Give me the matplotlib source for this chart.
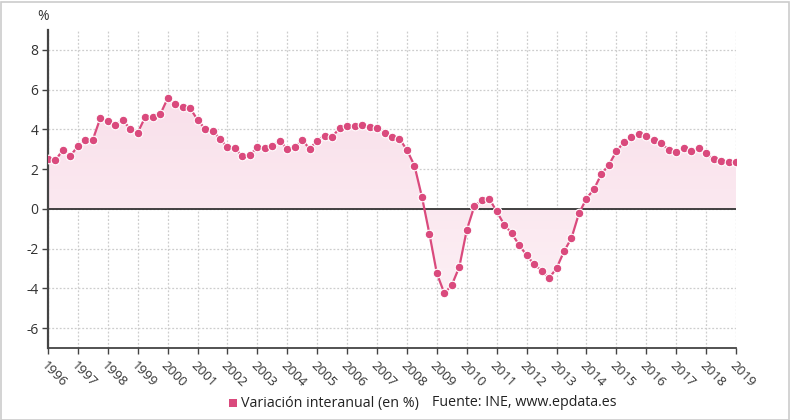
import matplotlib
matplotlib.use("Agg")
import matplotlib.pyplot as plt
import numpy as np
from matplotlib.colors import LinearSegmentedColormap
from matplotlib.patches import Rectangle

plt.rcParams['font.family'] = ['Open Sans', 'DejaVu Sans']

start_year = 1996
values = [
    2.52, 2.45, 2.97, 2.67, 3.16, 3.46, 3.49, 4.57, 4.42, 4.23, 4.45, 4.03,
    3.84, 4.62, 4.62, 4.75, 5.56, 5.27, 5.15, 5.07, 4.48, 4.03, 3.93, 3.53,
    3.09, 3.04, 2.65, 2.69, 3.12, 3.04, 3.14, 3.42, 3.02, 3.11, 3.46, 3.02,
    3.44, 3.69, 3.63, 4.06, 4.15, 4.18, 4.22, 4.12, 4.05, 3.81, 3.63, 3.53,
    2.96, 2.18, 0.61, -1.25, -3.25, -4.25, -3.83, -2.92, -1.06, 0.12, 0.45, 0.52,
    -0.13, -0.79, -1.23, -1.82, -2.33, -2.79, -3.11, -3.49, -2.99, -2.14, -1.47, -0.23,
    0.52, 0.99, 1.75, 2.22, 2.89, 3.36, 3.63, 3.78, 3.69, 3.49, 3.32, 2.96,
    2.84, 3.04, 2.91, 3.07, 2.81, 2.50, 2.40, 2.37, 2.38,
]
years = list(range(1996, 2020))
yticks = [-6, -4, -2, 0, 2, 4, 6, 8]
series_label = "Variación interanual (en %)"
source_label = "Fuente: INE, www.epdata.es"

x = start_year + np.arange(len(values)) * 0.25
y = np.array(values)

pink = '#da4a7d'
W, H = 790, 420
fig = plt.figure(figsize=(W / 100, H / 100), dpi=100)
ax = fig.add_axes([48 / W, 1 - 348 / H, (736 - 48) / W, (348 - 30) / H])

# Gradient fill between line and zero
poly = ax.fill_between(x, y, 0, color='none', linewidth=0)
cmap = LinearSegmentedColormap.from_list('pk', ['#fdf3f7', '#f8dbe7'])
grad = np.linspace(0, 1, 256).reshape(-1, 1)
im = ax.imshow(grad, extent=[1996, 2019, 9, -7], aspect='auto', cmap=cmap,
               origin='upper', zorder=1, interpolation='bilinear')
path = poly.get_paths()[0]
im.set_clip_path(path, transform=ax.transData)

ax.axhline(0, color='#333333', linewidth=1.3, zorder=2)
ax.plot(x, y, color=pink, linewidth=1.6, zorder=3, marker='o', markersize=6.2,
        markerfacecolor=pink, markeredgecolor='white', markeredgewidth=0.8)

ax.set_xlim(1996, 2019)
ax.set_ylim(-7, 9)
ax.set_xticks(years)
ax.set_xticklabels([str(v) for v in years], rotation=-45, ha='left', va='top',
                   rotation_mode='anchor', fontsize=9.5, color='#333333')
ax.set_yticks(yticks)
ax.set_yticklabels([str(v) for v in yticks], fontsize=10, color='#333333')
ax.tick_params(axis='both', length=4, width=1, color='#444444')
ax.tick_params(axis='x', pad=4)
ax.tick_params(axis='y', pad=3)

ax.grid(True, color='#cdcdcd', linestyle=(0, (1.5, 1.5)), linewidth=0.9, zorder=0)
ax.set_axisbelow(True)
for s in ['top', 'right']:
    ax.spines[s].set_visible(False)
ax.spines['left'].set_color('#444444')
ax.spines['left'].set_linewidth(1.6)
ax.spines['bottom'].set_color('#444444')
ax.spines['bottom'].set_linewidth(1.3)

fig.text(37 / W, 1 - 17 / H, '%', fontsize=10, color='#333333', ha='left', va='center')

# Legend
fig.patches.append(Rectangle((229 / W, 1 - 407 / H), 8 / W, 8 / H, transform=fig.transFigure,
                             facecolor=pink, edgecolor='none'))
fig.text(241 / W, 1 - 403 / H, series_label, fontsize=10.3, color='#222222', ha='left', va='center')
fig.text(432 / W, 1 - 403 / H, source_label, fontsize=10.3, color='#222222', ha='left', va='center')

# Figure border
fig.patches.append(Rectangle((0.5 / W, 0.5 / H), (W - 1.5) / W, (H - 2) / H, transform=fig.transFigure,
                             facecolor='none', edgecolor='#cccccc', linewidth=1.2))

fig.savefig('out.png', dpi=100)
